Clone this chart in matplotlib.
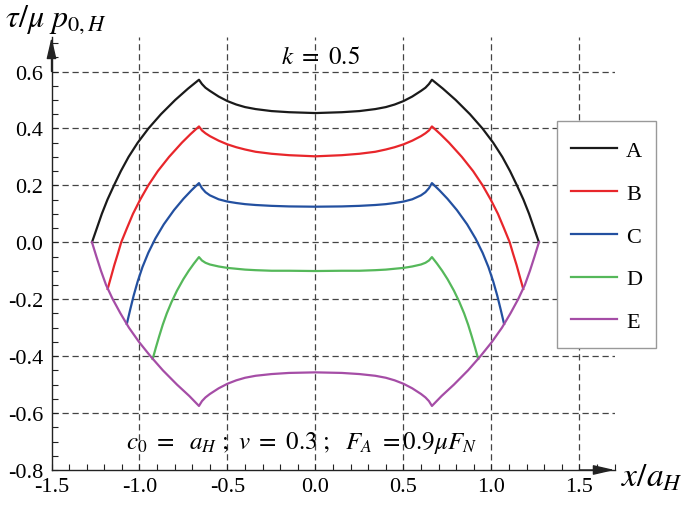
import numpy as np
import matplotlib
matplotlib.use('Agg')
import matplotlib.pyplot as plt
from matplotlib.ticker import MultipleLocator, FormatStrFormatter
from matplotlib.patches import Rectangle

plt.rcParams['font.family'] = ['Liberation Serif', 'DejaVu Serif']
plt.rcParams['mathtext.fontset'] = 'stix'
plt.rcParams['axes.unicode_minus'] = False

# Curve data (x/a_H, tau/mu p0H)
a_x = [-1.27, -1.242, -1.214, -1.182, -1.145, -1.106, -1.062, -1.01, -0.949, -0.878, -0.797, -0.724,
       -0.662, -0.645, -0.625, -0.6, -0.55, -0.5, -0.45, -0.4, -0.34, -0.25, -0.15, 0.0,
       0.15, 0.25, 0.34, 0.4, 0.45, 0.5, 0.55, 0.6, 0.625, 0.645, 0.662,
       0.724, 0.797, 0.878, 0.949, 1.01, 1.062, 1.106, 1.145, 1.182, 1.214, 1.242, 1.27]
a_y = [0.0, 0.05, 0.1, 0.15, 0.2, 0.25, 0.3, 0.35, 0.4, 0.45, 0.5, 0.54,
       0.571, 0.556, 0.543, 0.532, 0.512, 0.496, 0.484, 0.475, 0.468, 0.461, 0.457, 0.454,
       0.457, 0.461, 0.468, 0.475, 0.484, 0.496, 0.512, 0.532, 0.543, 0.556, 0.571,
       0.54, 0.5, 0.45, 0.4, 0.35, 0.3, 0.25, 0.2, 0.15, 0.1, 0.05, 0.0]

b_x = [-1.181, -1.161, -1.143, -1.123, -1.104, -1.071, -1.037, -0.996, -0.95, -0.896, -0.832, -0.759, -0.71,
       -0.662, -0.645, -0.625, -0.6, -0.55, -0.5, -0.45, -0.4, -0.34, -0.25, -0.15, 0.0,
       0.15, 0.25, 0.34, 0.4, 0.45, 0.5, 0.55, 0.6, 0.625, 0.645, 0.662,
       0.71, 0.759, 0.832, 0.896, 0.95, 0.996, 1.037, 1.071, 1.104, 1.123, 1.143, 1.161, 1.181]
b_y = [-0.164, -0.12, -0.08, -0.04, 0.0, 0.05, 0.1, 0.15, 0.2, 0.25, 0.3, 0.35, 0.38,
       0.407, 0.393, 0.383, 0.373, 0.357, 0.344, 0.334, 0.326, 0.318, 0.311, 0.306, 0.302,
       0.306, 0.311, 0.318, 0.326, 0.334, 0.344, 0.357, 0.373, 0.383, 0.393, 0.407,
       0.38, 0.35, 0.3, 0.25, 0.2, 0.15, 0.1, 0.05, 0.0, -0.04, -0.08, -0.12, -0.164]

c_x = [-1.072, -1.053, -1.033, -1.01, -0.983, -0.95, -0.91, -0.862, -0.804, -0.75, -0.704,
       -0.662, -0.645, -0.625, -0.6, -0.55, -0.5, -0.45, -0.4, -0.34, -0.25, -0.15, 0.0,
       0.15, 0.25, 0.34, 0.4, 0.45, 0.5, 0.55, 0.6, 0.625, 0.645, 0.662,
       0.704, 0.75, 0.804, 0.862, 0.91, 0.95, 0.983, 1.01, 1.033, 1.053, 1.072]
c_y = [-0.287, -0.237, -0.187, -0.137, -0.087, -0.037, 0.013, 0.063, 0.113, 0.153, 0.183,
       0.208, 0.19, 0.176, 0.165, 0.151, 0.143, 0.138, 0.134, 0.131, 0.128, 0.126, 0.125,
       0.126, 0.128, 0.131, 0.134, 0.138, 0.143, 0.151, 0.165, 0.176, 0.19, 0.208,
       0.183, 0.153, 0.113, 0.063, 0.013, -0.037, -0.087, -0.137, -0.187, -0.237, -0.287]

d_x = [-0.925, -0.907, -0.888, -0.868, -0.845, -0.818, -0.787, -0.751, -0.72, -0.691,
       -0.662, -0.645, -0.625, -0.6, -0.55, -0.5, -0.45, -0.4, -0.34, -0.25, -0.15, 0.0,
       0.15, 0.25, 0.34, 0.4, 0.45, 0.5, 0.55, 0.6, 0.625, 0.645, 0.662,
       0.691, 0.72, 0.751, 0.787, 0.818, 0.845, 0.868, 0.888, 0.907, 0.925]
d_y = [-0.41, -0.37, -0.33, -0.29, -0.25, -0.21, -0.17, -0.13, -0.1, -0.075,
       -0.052, -0.064, -0.072, -0.078, -0.085, -0.09, -0.093, -0.096, -0.098, -0.1, -0.1, -0.101,
       -0.1, -0.1, -0.098, -0.096, -0.093, -0.09, -0.085, -0.078, -0.072, -0.064, -0.052,
       -0.075, -0.1, -0.13, -0.17, -0.21, -0.25, -0.29, -0.33, -0.37, -0.41]

e_x = [-1.27, -1.245, -1.219, -1.19, -1.152, -1.108, -1.06, -1.003, -0.938, -0.867, -0.787, -0.717,
       -0.662, -0.645, -0.625, -0.6, -0.55, -0.5, -0.45, -0.4, -0.34, -0.25, -0.15, 0.0,
       0.15, 0.25, 0.34, 0.4, 0.45, 0.5, 0.55, 0.6, 0.625, 0.645, 0.662,
       0.717, 0.787, 0.867, 0.938, 1.003, 1.06, 1.108, 1.152, 1.19, 1.219, 1.245, 1.27]
e_y = [0.0, -0.05, -0.1, -0.15, -0.2, -0.25, -0.3, -0.35, -0.4, -0.45, -0.5, -0.54,
       -0.575, -0.558, -0.545, -0.533, -0.513, -0.497, -0.485, -0.476, -0.469, -0.463, -0.459, -0.457,
       -0.459, -0.463, -0.469, -0.476, -0.485, -0.497, -0.513, -0.533, -0.545, -0.558, -0.575,
       -0.54, -0.5, -0.45, -0.4, -0.35, -0.3, -0.25, -0.2, -0.15, -0.1, -0.05, 0.0]

labels = ['A', 'B', 'C', 'D', 'E']
colors = ['#1a1a1a', '#e8262b', '#2350a0', '#55b85a', '#a54da6']
curves = [(a_x, a_y), (b_x, b_y), (c_x, c_y), (d_x, d_y), (e_x, e_y)]

x_ticks = [-1.5, -1.0, -0.5, 0.0, 0.5, 1.0, 1.5]
y_ticks = [-0.8, -0.6, -0.4, -0.2, 0.0, 0.2, 0.4, 0.6]

fig = plt.figure(figsize=(6.85, 5.06), dpi=100)
ax = fig.add_axes([0.0752, 0.0692, 0.822, 0.855])

for (x, y), lab, col in zip(curves, labels, colors):
    ax.plot(x, y, color=col, lw=1.6, label=lab, zorder=3, solid_joinstyle='round')

ax.set_xlim(-1.5, 1.7)
ax.set_ylim(-0.8, 0.72)

# dashed grid at the labelled ticks
for gx in x_ticks[1:]:
    ax.axvline(gx, color='#444444', lw=0.9, ls=(0, (5, 3)), zorder=1)
for gy in y_ticks[1:]:
    ax.axhline(gy, color='#444444', lw=0.9, ls=(0, (5, 3)), zorder=1)

ax.set_xticks(x_ticks)
ax.set_yticks(y_ticks)
ax.xaxis.set_minor_locator(MultipleLocator(0.1))
ax.yaxis.set_minor_locator(MultipleLocator(0.05))
ax.xaxis.set_major_formatter(FormatStrFormatter('%.1f'))
ax.yaxis.set_major_formatter(FormatStrFormatter('%.1f'))
ax.tick_params(which='both', direction='in', length=4, width=0.8, color='#222222')
ax.tick_params(axis='x', labelsize=16, pad=5)
ax.tick_params(axis='y', labelsize=16, pad=6)

for s in ['top', 'right']:
    ax.spines[s].set_visible(False)
for s in ['left', 'bottom']:
    ax.spines[s].set_linewidth(1.0)
    ax.spines[s].set_color('#222222')

# arrow heads on the axes
arrow = dict(arrowstyle='-|>,head_length=1.3,head_width=0.3',
             color='#222222', lw=1.0, shrinkA=0, shrinkB=0)
ax.annotate('', xy=(1.7, -0.8), xytext=(1.5, -0.8), arrowprops=arrow, annotation_clip=False)
ax.annotate('', xy=(-1.5, 0.72), xytext=(-1.5, 0.6), arrowprops=arrow, annotation_clip=False)

ax.text(0.03, 0.65, r'$k\ =\ 0.5$', fontsize=18, ha='center', va='center')
ax.text(-0.08, -0.70, r'$c_0\ =\ \ a_H\ ;\ v\ =\ 0.3\ ;\ \ F_A\ =0.9\mu F_N$',
        fontsize=18, ha='center', va='center')

fig.text(0.007, 1 - 20 / 506, r'$\tau/\mu\ p_{0,H}$', fontsize=23, ha='left', va='center')
fig.text(0.906, 1 - 478 / 506, r'$x/a_H$', fontsize=24, ha='left', va='center')

# legend box drawn separately so its padding matches the reference
box = Rectangle((557 / 685, 1 - 349 / 506), 99 / 685, 227 / 506, transform=fig.transFigure,
                facecolor='white', edgecolor='#999999', lw=1.0, zorder=4, clip_on=False)
ax.add_patch(box)
leg = ax.legend(loc='upper left', bbox_to_anchor=(570.7 / 685, 1 - 141.5 / 506),
                bbox_transform=fig.transFigure, borderaxespad=0, borderpad=0, fontsize=16,
                handlelength=2.1, handletextpad=0.4, labelspacing=1.0, frameon=False)
leg.set_zorder(5)

fig.savefig('out.png', dpi=100)
